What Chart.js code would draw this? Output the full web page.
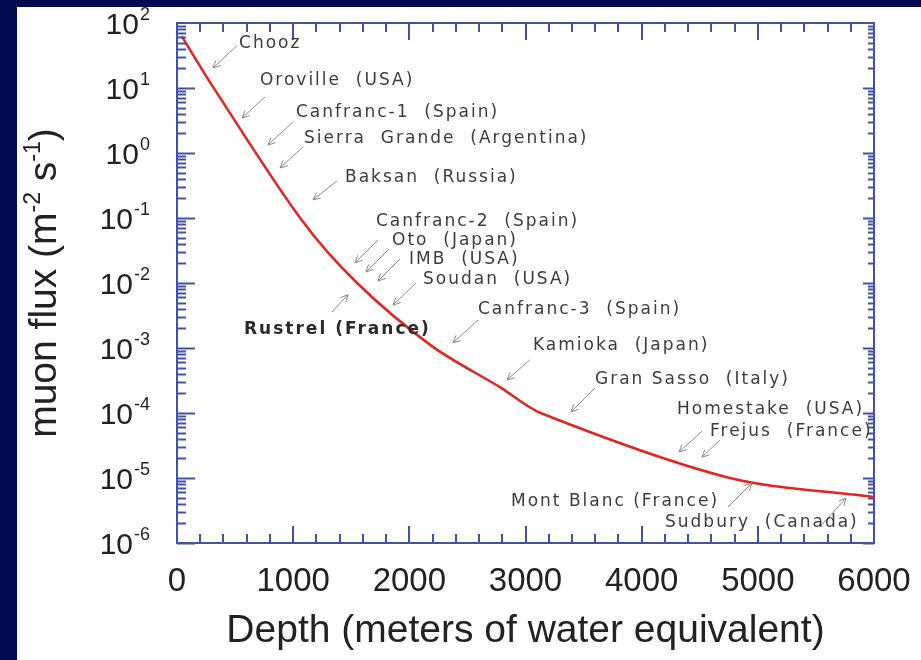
<!DOCTYPE html>
<html lang="en">
<head>
  <meta charset="UTF-8" />
  <title>Muon flux vs depth</title>
  <script src="https://cdn.jsdelivr.net/npm/chart.js"></script>
  <style>
    html, body { margin: 0; padding: 0; background: #03094f; }
    body { width: 921px; height: 660px; overflow: hidden; position: relative; }
    .panel { position: absolute; left: 17px; top: 7px; width: 904px; height: 653px; background: #fff; }
  </style>
</head>
<body>
<div class="panel"><canvas id="fluxChart" width="904" height="653"></canvas></div>
<script>
  // depth in metres of water equivalent, flux in m^-2 s^-1
  const depths = [40, 310, 1060, 1550, 2200, 2780, 3130, 4760, 6000];
  const fluxes = [63, 10.4, 0.1, 0.01, 1.05e-3, 2.5e-4, 1.0e-4, 1.0e-5, 5.1e-6];
  const depthTicks = [0, 1000, 2000, 3000, 4000, 5000, 6000];
  const fluxDecades = [-6, -5, -4, -3, -2, -1, 0, 1, 2];

  // underground sites: label spot and arrow, as [depth, log10 flux]
  const siteNames = [
    "Chooz", "Oroville  (USA)", "Canfranc-1  (Spain)", "Sierra  Grande  (Argentina)",
    "Baksan  (Russia)", "Canfranc-2  (Spain)", "Oto  (Japan)", "IMB  (USA)",
    "Soudan  (USA)", "Rustrel (France)", "Canfranc-3  (Spain)", "Kamioka  (Japan)",
    "Gran Sasso  (Italy)", "Homestake  (USA)", "Frejus  (France)", "Mont Blanc (France)",
    "Sudbury  (Canada)"
  ];
  const labelAt = [
    [534, 1.677], [714, 1.12], [1024, 0.615], [1093, 0.215],
    [1446, -0.385], [1713, -1.06], [1851, -1.354], [1997, -1.646],
    [2118, -1.94], [577, -2.72], [2591, -2.415], [3064, -2.97],
    [3598, -3.49], [4304, -3.95], [4588, -4.29], [2875, -5.37],
    [4201, -5.69]
  ];
  const arrowFrom = [
    [516, 1.65], [757, 0.86], [998, 0.477], [1085, 0.092],
    [1377, -0.43], [1730, -1.34], [1825, -1.477], [1920, -1.63],
    [2057, -2.0], [1334, -2.446], [2591, -2.57], [3039, -3.18],
    [3598, -3.615], [4519, -4.28], [4674, -4.415], [4743, -5.446],
    [5535, -5.75]
  ];
  const arrowTo = [
    [310, 1.31], [560, 0.54], [783, 0.123], [887, -0.23],
    [1171, -0.72], [1532, -1.69], [1627, -1.83], [1730, -1.97],
    [1859, -2.34], [1472, -2.18], [2376, -2.92], [2841, -3.49],
    [3392, -3.985], [4321, -4.6], [4519, -4.68], [4950, -5.077],
    [5759, -5.31]
  ];

  const axisBlue = "#4252a8";
  const inkColor = "#222";

  // boxed frame with inward ticks, power-of-ten labels, y title and site notes
  const decorations = {
    id: "decorations",
    afterDraw(chart) {
      const { ctx, chartArea: a, scales: { x, y } } = chart;
      ctx.save();

      // inward ticks
      ctx.strokeStyle = axisBlue;
      ctx.lineWidth = 2;
      ctx.beginPath();
      for (let d = 0; d <= 6000; d += 200) {
        const px = Math.round(x.getPixelForValue(d));
        const len = d % 1000 === 0 ? 17 : 9;
        ctx.moveTo(px, a.bottom); ctx.lineTo(px, a.bottom - len);
        ctx.moveTo(px, a.top); ctx.lineTo(px, a.top + len);
      }
      for (let e = -6; e < 2; e++) {
        for (let m = 1; m <= 9; m++) {
          const py = Math.round(y.getPixelForValue(m * Math.pow(10, e))) + 0.5;
          const major = m === 1;
          ctx.moveTo(a.left, py); ctx.lineTo(a.left + (major ? 18 : 9), py);
          ctx.moveTo(a.right, py); ctx.lineTo(a.right - (major ? 11 : 6), py);
        }
      }
      ctx.stroke();
      ctx.strokeRect(a.left, a.top, a.right - a.left, a.bottom - a.top);

      // y tick labels: 10 with a raised exponent
      ctx.fillStyle = inkColor;
      ctx.textBaseline = "alphabetic";
      ctx.textAlign = "left";
      fluxDecades.forEach(e => {
        const py = y.getPixelForValue(Math.pow(10, e));
        const exp = String(e);
        ctx.font = "18px 'Liberation Sans'";
        const ew = ctx.measureText(exp).width;
        ctx.font = "30px 'Liberation Sans'";
        const bw = ctx.measureText("10").width;
        const right = a.left - 27;
        ctx.fillText("10", right - ew - bw - 1, py + 10.5);
        ctx.font = "18px 'Liberation Sans'";
        ctx.fillText(exp, right - ew, py - 3);
      });

      // y axis title with superscripts
      const parts = [["muon flux (m", false], ["-2", true], [" s", false], ["-1", true], [")", false]];
      const bigFont = "39px 'Liberation Sans'";
      const supFont = "23px 'Liberation Sans'";
      let total = 0;
      parts.forEach(([t, sup]) => { ctx.font = sup ? supFont : bigFont; total += ctx.measureText(t).width; });
      ctx.translate(39, (a.top + a.bottom) / 2);
      ctx.rotate(-Math.PI / 2);
      let cx = -total / 2;
      parts.forEach(([t, sup]) => {
        ctx.font = sup ? supFont : bigFont;
        ctx.fillText(t, cx, sup ? -16 : 0);
        cx += ctx.measureText(t).width;
      });
      ctx.setTransform(1, 0, 0, 1, 0, 0);

      // site notes with arrows
      const toPx = p => [x.getPixelForValue(p[0]), y.getPixelForValue(Math.pow(10, p[1]))];
      ctx.strokeStyle = "#8a8a8a";
      ctx.lineWidth = 1;
      arrowFrom.forEach((from, i) => {
        const [x0, y0] = toPx(from);
        const [x1, y1] = toPx(arrowTo[i]);
        const ang = Math.atan2(y1 - y0, x1 - x0);
        ctx.beginPath();
        ctx.moveTo(x0, y0); ctx.lineTo(x1, y1);
        ctx.moveTo(x1 - 8 * Math.cos(ang - 0.45), y1 - 8 * Math.sin(ang - 0.45));
        ctx.lineTo(x1, y1);
        ctx.lineTo(x1 - 8 * Math.cos(ang + 0.45), y1 - 8 * Math.sin(ang + 0.45));
        ctx.stroke();
      });
      ctx.textBaseline = "middle";
      ctx.letterSpacing = "2px";
      siteNames.forEach((name, i) => {
        const [tx, ty] = toPx(labelAt[i]);
        const strong = name.startsWith("Rustrel");
        ctx.font = (strong ? "bold " : "") + "17px 'DejaVu Sans'";
        ctx.fillStyle = strong ? "#2a2a2a" : "#3c3c3c";
        ctx.fillText(name, tx, ty);
      });
      ctx.restore();
    }
  };

  const ctx = document.getElementById("fluxChart").getContext("2d");
  new Chart(ctx, {
    type: "line",
    data: {
      datasets: [{
        data: depths.map((d, i) => ({ x: d, y: fluxes[i] })),
        borderColor: "#e3241f",
        borderWidth: 2.5,
        pointRadius: 0,
        tension: 0.3,
        fill: false
      }]
    },
    options: {
      responsive: false,
      animation: false,
      layout: { padding: { top: 16, right: 47, left: 0, bottom: 0 } },
      plugins: { legend: { display: false }, tooltip: { enabled: false } },
      scales: {
        x: {
          type: "linear",
          min: 0,
          max: 6000,
          afterFit(s) { s.height = 117; s.paddingLeft = 0; s.paddingRight = 0; },
          afterBuildTicks(s) { s.ticks = depthTicks.map(v => ({ value: v })); },
          grid: { display: false, drawTicks: false },
          border: { display: false },
          ticks: {
            padding: 19,
            color: inkColor,
            font: { family: "Liberation Sans", size: 33 },
            callback: v => String(v)
          },
          title: {
            display: true,
            text: "Depth (meters of water equivalent)",
            color: inkColor,
            font: { family: "Liberation Sans", size: 39 },
            padding: { top: 0, bottom: 5 }
          }
        },
        y: {
          type: "logarithmic",
          min: 1e-6,
          max: 100,
          afterFit(s) { s.width = 160; },
          grid: { display: false },
          border: { display: false },
          ticks: { display: false }
        }
      }
    },
    plugins: [decorations]
  });
</script>
</body>
</html>
